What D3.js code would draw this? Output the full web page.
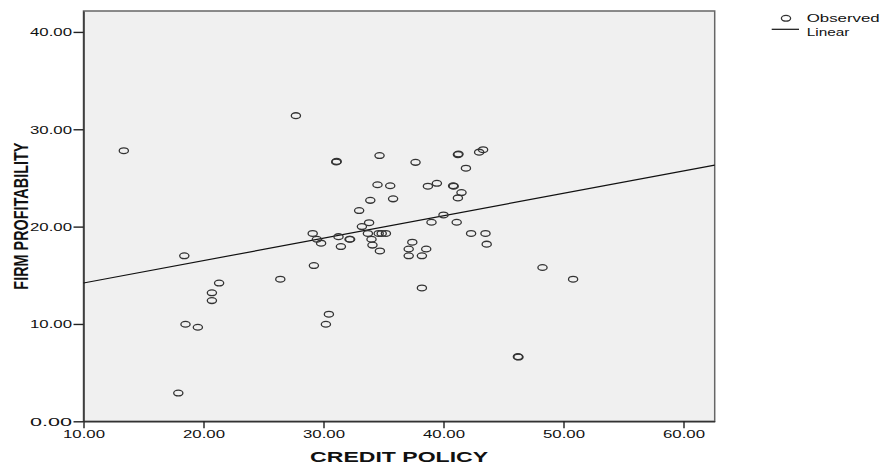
<!DOCTYPE html>
<html>
<head>
<meta charset="utf-8">
<script src="https://cdn.jsdelivr.net/npm/d3@7"></script>
<style>
  body { margin: 0; background: #fff; }
  text { font-family: "Liberation Sans", Arial, sans-serif; fill: #111; }
</style>
</head>
<body>
<div id="chart"></div>
<script>
var creditPolicy = [13.36, 27.7, 31.06, 31.1, 34.67, 37.67, 41.2, 41.25, 42.97, 43.3,
  41.87, 34.5, 35.56, 38.7, 39.45, 40.8, 40.85, 41.5, 41.2, 33.9,
  35.8, 32.97, 33.2, 33.8, 29.1, 29.45, 29.8, 31.25, 32.17, 32.22,
  31.45, 33.7, 34.0, 34.08, 34.6, 34.85, 35.2, 34.7, 29.2, 26.4,
  40.0, 39.0, 41.1, 42.3, 43.5, 43.6, 37.4, 37.1, 38.56, 37.1,
  38.2, 38.2, 48.25, 50.8, 46.2, 46.25, 30.45, 30.2, 18.4, 21.3,
  20.7, 20.7, 18.5, 19.53, 17.9];
var firmProfitability = [27.8, 31.4, 26.65, 26.7, 27.3, 26.6, 27.4, 27.45, 27.65, 27.9,
  26.0, 24.3, 24.2, 24.15, 24.45, 24.2, 24.15, 23.5, 22.95, 22.7,
  22.85, 21.65, 20.0, 20.4, 19.3, 18.7, 18.3, 18.97, 18.7, 18.7,
  17.95, 19.3, 18.7, 18.1, 19.3, 19.3, 19.3, 17.5, 16.0, 14.6,
  21.2, 20.45, 20.45, 19.3, 19.3, 18.2, 18.4, 17.7, 17.7, 17.0,
  17.0, 13.7, 15.8, 14.6, 6.64, 6.6, 11.0, 9.97, 17.0, 14.2,
  13.2, 12.4, 9.97, 9.66, 2.9];

// linear fit: [intercept, slope]
var linearFit = [11.9, 0.2304];

var xTicks = [10, 20, 30, 40, 50, 60];
var yTicks = [0, 10, 20, 30, 40];
var xDomain = [10, 62.6];
var yDomain = [0, 42.15];

var chartW = 881, chartH = 464;
var plotL = 83.5, plotR = 714.7, plotT = 11, plotB = 421.3;

var svg = d3.select('#chart').append('svg')
  .attr('width', chartW)
  .attr('height', chartH);

var x = d3.scaleLinear().domain(xDomain).range([plotL, plotR]);
var y = d3.scaleLinear().domain(yDomain).range([plotB, plotT]);

// plot background
svg.append('rect')
  .attr('x', plotL).attr('y', plotT)
  .attr('width', plotR - plotL).attr('height', plotB - plotT)
  .attr('fill', '#f0f0f0')
  .attr('stroke', '#666')
  .attr('stroke-width', 1.5);

// axes
var xAxis = svg.append('g')
  .attr('transform', 'translate(0,' + plotB + ')')
  .call(d3.axisBottom(x).tickValues(xTicks).tickSize(7).tickSizeOuter(0).tickFormat(d3.format('.2f')));
var yAxis = svg.append('g')
  .attr('transform', 'translate(' + plotL + ',0)')
  .call(d3.axisLeft(y).tickValues(yTicks).tickSize(10).tickSizeOuter(0).tickFormat(d3.format('.2f')));

[xAxis, yAxis].forEach(function(g) {
  g.select('.domain').attr('stroke', '#333').attr('stroke-width', 1.5);
  g.selectAll('.tick line').attr('stroke', '#222').attr('stroke-width', 1.4);
  g.selectAll('.tick text')
    .attr('font-size', 11)
    .attr('fill', '#222')
    .attr('textLength', 42)
    .attr('lengthAdjust', 'spacingAndGlyphs');
});
xAxis.selectAll('.tick text').attr('y', 9).attr('dy', '0.71em');
yAxis.selectAll('.tick text').attr('x', -11.5).attr('dy', '0.36em');

// fit line
svg.append('line')
  .attr('x1', x(xDomain[0])).attr('x2', x(xDomain[1]))
  .attr('y1', y(linearFit[0] + linearFit[1] * xDomain[0]))
  .attr('y2', y(linearFit[0] + linearFit[1] * xDomain[1]))
  .attr('stroke', '#111')
  .attr('stroke-width', 1.2);

// observed points
svg.append('g').selectAll('ellipse')
  .data(creditPolicy)
  .enter().append('ellipse')
  .attr('cx', function(d) { return x(d); })
  .attr('cy', function(d, i) { return y(firmProfitability[i]); })
  .attr('rx', 4.6).attr('ry', 2.9)
  .attr('fill', 'none')
  .attr('stroke', '#333')
  .attr('stroke-width', 1.3);

// axis titles
svg.append('text')
  .attr('x', (plotL + plotR) / 2).attr('y', 461.5)
  .attr('text-anchor', 'middle')
  .attr('font-size', 15.5).attr('font-weight', 'bold')
  .attr('textLength', 178).attr('lengthAdjust', 'spacingAndGlyphs')
  .text('CREDIT POLICY');

svg.append('text')
  .attr('transform', 'translate(27.5,' + ((plotT + plotB) / 2) + ') rotate(-90)')
  .attr('text-anchor', 'middle')
  .attr('font-size', 20).attr('font-weight', 'bold')
  .attr('textLength', 147).attr('lengthAdjust', 'spacingAndGlyphs')
  .text('FIRM PROFITABILITY');

// legend
svg.append('ellipse')
  .attr('cx', 786).attr('cy', 18.3)
  .attr('rx', 4.6).attr('ry', 2.9)
  .attr('fill', 'none').attr('stroke', '#333').attr('stroke-width', 1.3);
svg.append('line')
  .attr('x1', 771.7).attr('x2', 799).attr('y1', 29.3).attr('y2', 29.3)
  .attr('stroke', '#111').attr('stroke-width', 1.2);
svg.append('text')
  .attr('x', 806.7).attr('y', 22)
  .attr('font-size', 11)
  .attr('textLength', 73).attr('lengthAdjust', 'spacingAndGlyphs')
  .text('Observed');
svg.append('text')
  .attr('x', 806.7).attr('y', 36)
  .attr('font-size', 11)
  .attr('textLength', 42.7).attr('lengthAdjust', 'spacingAndGlyphs')
  .text('Linear');
</script>
</body>
</html>
